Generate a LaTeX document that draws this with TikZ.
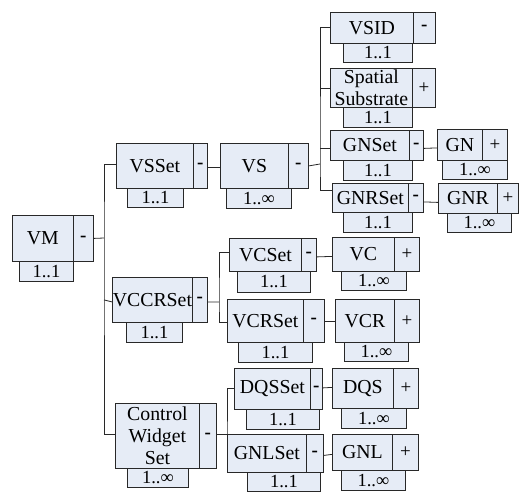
\documentclass[tikz,border=0pt]{standalone}
\usepackage{fontspec}
\setmainfont{Liberation Serif}
\definecolor{boxfill}{RGB}{230,236,246}
\definecolor{boxline}{RGB}{40,40,40}
\tikzset{
  elbox/.style={draw=boxline, fill=boxfill, line width=0.8pt, inner sep=0pt, anchor=north west, align=center, font=\fontsize{19.8}{22}\selectfont},
  sgbox/.style={elbox, font=\fontsize{19}{20}\selectfont},
  mlbox/.style={elbox, font=\fontsize{18.5}{18}\selectfont},
  conn/.style={draw=boxline, line width=0.8pt}
}
% \elem{name}{x1}{x2}{x3}{ytop}{ybot}{text}{sign}
\newcommand{\elem}[8]{%
  \node[elbox, minimum width={#3-#2}, minimum height={#6-#5}] (#1) at (#2,#5) {#7};
  \node[sgbox, minimum width={#4-#3}, minimum height={#6-#5}] (#1-s) at (#3,#5) {#8};
}
% \mult{name}{mx1}{mx2}{ytop}{ybot}{text}
\newcommand{\mult}[6]{%
  \node[mlbox, minimum width={#3-#2}, minimum height={#5-#4}] (#1-m) at (#2,#4) {#6};
}
\begin{document}
\begin{tikzpicture}[x=1pt,y=-1pt]
\useasboundingbox (0,0) rectangle (521,495);
% level 1
\mult{vm}{19}{73}{261}{281}{1..1}
\elem{vm}{12}{73}{93}{215}{261}{VM}{\textbf{-}}
% level 2
\mult{vsset}{127}{183}{188}{207}{1..1}
\elem{vsset}{116}{193}{207}{143}{188}{VSSet}{\textbf{-}}
\mult{vccrset}{126}{182}{322}{342}{1..1}
\elem{vccrset}{112}{192}{207}{277}{322}{VCCRSet}{\textbf{-}}
\mult{cws}{127}{188}{468}{487}{1..∞}
\elem{cws}{115}{199}{216}{403}{468}{Control\\Widget\\Set}{\textbf{-}}
% VS
\mult{vs}{226}{291}{188}{208}{1..∞}
\elem{vs}{220}{288}{308}{143}{188}{VS}{\textbf{-}}
% VS children
\mult{vsid}{343}{412}{43}{62}{1..1}
\elem{vsid}{330}{413}{435}{12}{43}{VSID}{\textbf{-}}
\mult{ss}{343}{412}{107}{127}{1..1}
\elem{ss}{330}{412}{435}{68}{107}{Spatial\\Substrate}{+}
\mult{gnset}{343}{412}{160}{180}{1..1}
\elem{gnset}{330}{409}{423}{130}{160}{GNSet}{\textbf{-}}
\mult{gn}{442}{507}{160}{179}{1..∞}
\elem{gn}{437}{482}{507}{129}{160}{GN}{+}
\mult{gnrset}{343}{412}{212}{232}{1..1}
\elem{gnrset}{332}{408}{423}{183}{212}{GNRSet}{\textbf{-}}
\mult{gnr}{447}{511}{213}{232}{1..∞}
\elem{gnr}{438}{497}{518}{183}{213}{GNR}{+}
% VCCRSet children
\mult{vcset}{237}{310}{271}{292}{1..1}
\elem{vcset}{229}{301}{316}{238}{271}{VCSet}{\textbf{-}}
\mult{vcrset}{238}{312}{342}{362}{1..1}
\elem{vcrset}{227}{303}{324}{299}{342}{VCRSet}{\textbf{-}}
\mult{vc}{341}{406}{271}{290}{1..∞}
\elem{vc}{332}{394}{419}{237}{271}{VC}{+}
\mult{vcr}{344}{408}{342}{361}{1..∞}
\elem{vcr}{335}{394}{419}{299}{342}{VCR}{+}
% CWS children
\mult{dqsset}{246}{319}{409}{429}{1..1}
\elem{dqsset}{234}{310}{322}{368}{409}{DQSSet}{\textbf{-}}
\mult{gnlset}{247}{320}{472}{491}{1..1}
\elem{gnlset}{227}{306}{323}{434}{472}{GNLSet}{\textbf{-}}
\mult{dqs}{341}{406}{408}{428}{1..∞}
\elem{dqs}{332}{393}{418}{368}{408}{DQS}{+}
\mult{gnl}{341}{405}{470}{490}{1..∞}
\elem{gnl}{332}{392}{418}{434}{470}{GNL}{+}
% junctions
\coordinate (j1) at (104,238);
\coordinate (j2) at (320,164);
\coordinate (j3) at (219,302);
\coordinate (j4) at (227,420);
% connectors level 1
\draw[conn] (vm-s.east) -- (j1);
\draw[conn] ([yshift=2pt]vsset.west) -| (j1) |- ([yshift=2pt]cws.west);
\draw[conn] (j1 |- vccrset.west) -- ([yshift=-2pt]vccrset.west);
% VSSet -> VS
\draw[conn] ([yshift=-1pt]vsset-s.east) -- ([yshift=-1pt]vs.west);
% VS -> children
\draw[conn] (vs-s.east) -- (j2);
\draw[conn] (vsid.west) -| (j2) |- ([yshift=8pt]gnrset.west);
\draw[conn] (j2 |- ss.west) -- (ss.west);
\draw[conn] ([yshift=-3pt]j2 |- gnset.west) -- ([yshift=-3pt]gnset.west);
\draw[conn] ([yshift=-3pt]gnset-s.east) -- ([yshift=-3pt]gn.west);
\draw[conn] ([yshift=-4pt]gnrset-s.east) -- ([yshift=-4pt]gnr.west);
% VCCRSet -> children
\draw[conn] ([yshift=-2pt]vccrset-s.east) -- (j3);
\draw[conn] ([yshift=3pt]vcset.west) -| (j3) |- ([yshift=-1pt]vcrset.west);
\draw[conn] ([yshift=-2pt]vcset-s.east) -- ([yshift=-2pt]vc.west);
\draw[conn] (vcrset-s.east) -- (vcr.west);
% CWS -> children
\draw[conn] ([yshift=2pt]cws-s.east) -- ([yshift=2pt]cws-s.east -| j4);
\draw[conn] ([yshift=1pt]dqsset.west) -| ([xshift=-7pt]dqsset.west |- gnlset.west) -- ([yshift=2pt]gnlset.west);
\draw[conn] ([yshift=1pt]dqsset-s.east) -- ([yshift=1pt]dqs.west);
\draw[conn] ([yshift=-2pt]gnlset-s.east) -- ([yshift=-2pt]gnl.west);
\end{tikzpicture}
\end{document}
